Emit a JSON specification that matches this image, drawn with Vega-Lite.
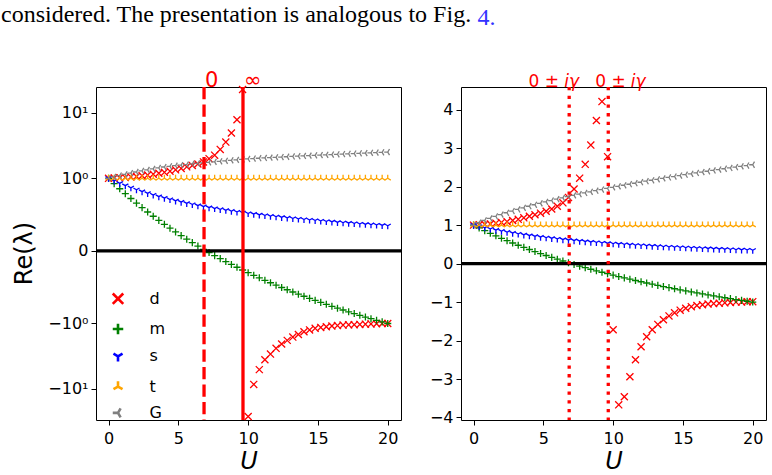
{
  "$schema": "https://vega.github.io/schema/vega-lite/v6.json",
  "background": "white",
  "padding": {"left": 0, "top": 2, "right": 6, "bottom": 0},
  "datasets": {
    "shared": [
      {"k":"m","U":0,"v":1.0},{"k":"m","U":0.4,"v":0.927},{"k":"m","U":0.8,"v":0.856},{"k":"m","U":1.2,"v":0.788},{"k":"m","U":1.6,"v":0.722},{"k":"m","U":2,"v":0.658},{"k":"m","U":2.4,"v":0.596},{"k":"m","U":2.8,"v":0.536},{"k":"m","U":3.2,"v":0.477},{"k":"m","U":3.6,"v":0.421},{"k":"m","U":4,"v":0.366},{"k":"m","U":4.4,"v":0.313},{"k":"m","U":4.8,"v":0.261},{"k":"m","U":5.2,"v":0.21},{"k":"m","U":5.6,"v":0.161},{"k":"m","U":6,"v":0.114},{"k":"m","U":6.4,"v":0.067},{"k":"m","U":6.8,"v":0.022},{"k":"m","U":7.2,"v":-0.022},{"k":"m","U":7.6,"v":-0.065},{"k":"m","U":8,"v":-0.106},{"k":"m","U":8.4,"v":-0.147},{"k":"m","U":8.8,"v":-0.187},{"k":"m","U":9.2,"v":-0.225},{"k":"m","U":9.6,"v":-0.263},{"k":"m","U":10,"v":-0.3},{"k":"m","U":10.4,"v":-0.336},{"k":"m","U":10.8,"v":-0.371},{"k":"m","U":11.2,"v":-0.405},{"k":"m","U":11.6,"v":-0.439},{"k":"m","U":12,"v":-0.472},{"k":"m","U":12.4,"v":-0.504},{"k":"m","U":12.8,"v":-0.535},{"k":"m","U":13.2,"v":-0.566},{"k":"m","U":13.6,"v":-0.596},{"k":"m","U":14,"v":-0.625},{"k":"m","U":14.4,"v":-0.654},{"k":"m","U":14.8,"v":-0.682},{"k":"m","U":15.2,"v":-0.709},{"k":"m","U":15.6,"v":-0.736},{"k":"m","U":16,"v":-0.763},{"k":"m","U":16.4,"v":-0.789},{"k":"m","U":16.8,"v":-0.814},{"k":"m","U":17.2,"v":-0.839},{"k":"m","U":17.6,"v":-0.863},{"k":"m","U":18,"v":-0.887},{"k":"m","U":18.4,"v":-0.911},{"k":"m","U":18.8,"v":-0.934},{"k":"m","U":19.2,"v":-0.956},{"k":"m","U":19.6,"v":-0.978},{"k":"m","U":20,"v":-1.0},
      {"k":"s","U":0,"v":1.0},{"k":"s","U":0.4,"v":0.964},{"k":"s","U":0.8,"v":0.93},{"k":"s","U":1.2,"v":0.899},{"k":"s","U":1.6,"v":0.869},{"k":"s","U":2,"v":0.842},{"k":"s","U":2.4,"v":0.816},{"k":"s","U":2.8,"v":0.792},{"k":"s","U":3.2,"v":0.769},{"k":"s","U":3.6,"v":0.747},{"k":"s","U":4,"v":0.727},{"k":"s","U":4.4,"v":0.707},{"k":"s","U":4.8,"v":0.689},{"k":"s","U":5.2,"v":0.672},{"k":"s","U":5.6,"v":0.655},{"k":"s","U":6,"v":0.639},{"k":"s","U":6.4,"v":0.624},{"k":"s","U":6.8,"v":0.61},{"k":"s","U":7.2,"v":0.596},{"k":"s","U":7.6,"v":0.583},{"k":"s","U":8,"v":0.571},{"k":"s","U":8.4,"v":0.559},{"k":"s","U":8.8,"v":0.547},{"k":"s","U":9.2,"v":0.536},{"k":"s","U":9.6,"v":0.526},{"k":"s","U":10,"v":0.515},{"k":"s","U":10.4,"v":0.506},{"k":"s","U":10.8,"v":0.496},{"k":"s","U":11.2,"v":0.487},{"k":"s","U":11.6,"v":0.478},{"k":"s","U":12,"v":0.47},{"k":"s","U":12.4,"v":0.462},{"k":"s","U":12.8,"v":0.454},{"k":"s","U":13.2,"v":0.446},{"k":"s","U":13.6,"v":0.439},{"k":"s","U":14,"v":0.432},{"k":"s","U":14.4,"v":0.425},{"k":"s","U":14.8,"v":0.418},{"k":"s","U":15.2,"v":0.412},{"k":"s","U":15.6,"v":0.405},{"k":"s","U":16,"v":0.399},{"k":"s","U":16.4,"v":0.393},{"k":"s","U":16.8,"v":0.388},{"k":"s","U":17.2,"v":0.382},{"k":"s","U":17.6,"v":0.377},{"k":"s","U":18,"v":0.371},{"k":"s","U":18.4,"v":0.366},{"k":"s","U":18.8,"v":0.361},{"k":"s","U":19.2,"v":0.357},{"k":"s","U":19.6,"v":0.352},{"k":"s","U":20,"v":0.347},
      {"k":"t","U":0,"v":1},{"k":"t","U":0.4,"v":1},{"k":"t","U":0.8,"v":1},{"k":"t","U":1.2,"v":1},{"k":"t","U":1.6,"v":1},{"k":"t","U":2,"v":1},{"k":"t","U":2.4,"v":1},{"k":"t","U":2.8,"v":1},{"k":"t","U":3.2,"v":1},{"k":"t","U":3.6,"v":1},{"k":"t","U":4,"v":1},{"k":"t","U":4.4,"v":1},{"k":"t","U":4.8,"v":1},{"k":"t","U":5.2,"v":1},{"k":"t","U":5.6,"v":1},{"k":"t","U":6,"v":1},{"k":"t","U":6.4,"v":1},{"k":"t","U":6.8,"v":1},{"k":"t","U":7.2,"v":1},{"k":"t","U":7.6,"v":1},{"k":"t","U":8,"v":1},{"k":"t","U":8.4,"v":1},{"k":"t","U":8.8,"v":1},{"k":"t","U":9.2,"v":1},{"k":"t","U":9.6,"v":1},{"k":"t","U":10,"v":1},{"k":"t","U":10.4,"v":1},{"k":"t","U":10.8,"v":1},{"k":"t","U":11.2,"v":1},{"k":"t","U":11.6,"v":1},{"k":"t","U":12,"v":1},{"k":"t","U":12.4,"v":1},{"k":"t","U":12.8,"v":1},{"k":"t","U":13.2,"v":1},{"k":"t","U":13.6,"v":1},{"k":"t","U":14,"v":1},{"k":"t","U":14.4,"v":1},{"k":"t","U":14.8,"v":1},{"k":"t","U":15.2,"v":1},{"k":"t","U":15.6,"v":1},{"k":"t","U":16,"v":1},{"k":"t","U":16.4,"v":1},{"k":"t","U":16.8,"v":1},{"k":"t","U":17.2,"v":1},{"k":"t","U":17.6,"v":1},{"k":"t","U":18,"v":1},{"k":"t","U":18.4,"v":1},{"k":"t","U":18.8,"v":1},{"k":"t","U":19.2,"v":1},{"k":"t","U":19.6,"v":1},{"k":"t","U":20,"v":1},
      {"k":"G","U":0,"v":1.0},{"k":"G","U":0.4,"v":1.062},{"k":"G","U":0.8,"v":1.12},{"k":"G","U":1.2,"v":1.174},{"k":"G","U":1.6,"v":1.225},{"k":"G","U":2,"v":1.274},{"k":"G","U":2.4,"v":1.321},{"k":"G","U":2.8,"v":1.366},{"k":"G","U":3.2,"v":1.409},{"k":"G","U":3.6,"v":1.45},{"k":"G","U":4,"v":1.491},{"k":"G","U":4.4,"v":1.529},{"k":"G","U":4.8,"v":1.567},{"k":"G","U":5.2,"v":1.604},{"k":"G","U":5.6,"v":1.639},{"k":"G","U":6,"v":1.674},{"k":"G","U":6.4,"v":1.708},{"k":"G","U":6.8,"v":1.741},{"k":"G","U":7.2,"v":1.773},{"k":"G","U":7.6,"v":1.805},{"k":"G","U":8,"v":1.836},{"k":"G","U":8.4,"v":1.866},{"k":"G","U":8.8,"v":1.896},{"k":"G","U":9.2,"v":1.925},{"k":"G","U":9.6,"v":1.953},{"k":"G","U":10,"v":1.981},{"k":"G","U":10.4,"v":2.009},{"k":"G","U":10.8,"v":2.036},{"k":"G","U":11.2,"v":2.063},{"k":"G","U":11.6,"v":2.089},{"k":"G","U":12,"v":2.115},{"k":"G","U":12.4,"v":2.141},{"k":"G","U":12.8,"v":2.166},{"k":"G","U":13.2,"v":2.191},{"k":"G","U":13.6,"v":2.215},{"k":"G","U":14,"v":2.239},{"k":"G","U":14.4,"v":2.263},{"k":"G","U":14.8,"v":2.287},{"k":"G","U":15.2,"v":2.31},{"k":"G","U":15.6,"v":2.333},{"k":"G","U":16,"v":2.356},{"k":"G","U":16.4,"v":2.378},{"k":"G","U":16.8,"v":2.4},{"k":"G","U":17.2,"v":2.422},{"k":"G","U":17.6,"v":2.444},{"k":"G","U":18,"v":2.465},{"k":"G","U":18.4,"v":2.486},{"k":"G","U":18.8,"v":2.507},{"k":"G","U":19.2,"v":2.528},{"k":"G","U":19.6,"v":2.549},{"k":"G","U":20,"v":2.569}
    ],
    "dLeft": [
      {"k":"d","U":0,"v":1.0},{"k":"d","U":0.4,"v":1.01},{"k":"d","U":0.8,"v":1.02},{"k":"d","U":1.2,"v":1.04},{"k":"d","U":1.6,"v":1.06},{"k":"d","U":2,"v":1.08},{"k":"d","U":2.4,"v":1.11},{"k":"d","U":2.8,"v":1.14},{"k":"d","U":3.2,"v":1.18},{"k":"d","U":3.6,"v":1.22},{"k":"d","U":4,"v":1.26},{"k":"d","U":4.4,"v":1.31},{"k":"d","U":4.8,"v":1.37},{"k":"d","U":5.2,"v":1.43},{"k":"d","U":5.6,"v":1.5},{"k":"d","U":6,"v":1.58},{"k":"d","U":6.4,"v":1.67},{"k":"d","U":6.8,"v":1.8},{"k":"d","U":7.2,"v":2.0},{"k":"d","U":7.6,"v":2.3},{"k":"d","U":8,"v":2.8},{"k":"d","U":8.4,"v":3.7},{"k":"d","U":8.8,"v":4.95},{"k":"d","U":9.2,"v":8.0},{"k":"d","U":9.6,"v":23.0},{"k":"d","U":10,"v":-27.0},{"k":"d","U":10.4,"v":-8.7},{"k":"d","U":10.8,"v":-5.1},{"k":"d","U":11.2,"v":-3.7},{"k":"d","U":11.6,"v":-2.95},{"k":"d","U":12,"v":-2.45},{"k":"d","U":12.4,"v":-2.07},{"k":"d","U":12.8,"v":-1.83},{"k":"d","U":13.2,"v":-1.63},{"k":"d","U":13.6,"v":-1.48},{"k":"d","U":14,"v":-1.36},{"k":"d","U":14.4,"v":-1.28},{"k":"d","U":14.8,"v":-1.21},{"k":"d","U":15.2,"v":-1.17},{"k":"d","U":15.6,"v":-1.14},{"k":"d","U":16,"v":-1.11},{"k":"d","U":16.4,"v":-1.09},{"k":"d","U":16.8,"v":-1.07},{"k":"d","U":17.2,"v":-1.06},{"k":"d","U":17.6,"v":-1.05},{"k":"d","U":18,"v":-1.04},{"k":"d","U":18.4,"v":-1.03},{"k":"d","U":18.8,"v":-1.02},{"k":"d","U":19.2,"v":-1.01},{"k":"d","U":19.6,"v":-1.0},{"k":"d","U":20,"v":-1.0}
    ],
    "dRight": [
      {"k":"d","U":0,"v":1.0},{"k":"d","U":0.4,"v":1.01},{"k":"d","U":0.8,"v":1.02},{"k":"d","U":1.2,"v":1.03},{"k":"d","U":1.6,"v":1.05},{"k":"d","U":2,"v":1.07},{"k":"d","U":2.4,"v":1.09},{"k":"d","U":2.8,"v":1.12},{"k":"d","U":3.2,"v":1.15},{"k":"d","U":3.6,"v":1.19},{"k":"d","U":4,"v":1.23},{"k":"d","U":4.4,"v":1.27},{"k":"d","U":4.8,"v":1.31},{"k":"d","U":5.2,"v":1.36},{"k":"d","U":5.6,"v":1.42},{"k":"d","U":6,"v":1.49},{"k":"d","U":6.4,"v":1.58},{"k":"d","U":6.8,"v":1.72},{"k":"d","U":7.2,"v":1.94},{"k":"d","U":7.6,"v":2.22},{"k":"d","U":8,"v":2.58},{"k":"d","U":8.4,"v":3.08},{"k":"d","U":8.8,"v":3.72},{"k":"d","U":9.2,"v":4.21},{"k":"d","U":9.6,"v":2.78},{"k":"d","U":10,"v":-1.72},{"k":"d","U":10.4,"v":-3.67},{"k":"d","U":10.8,"v":-3.46},{"k":"d","U":11.2,"v":-2.94},{"k":"d","U":11.6,"v":-2.5},{"k":"d","U":12,"v":-2.16},{"k":"d","U":12.4,"v":-1.9},{"k":"d","U":12.8,"v":-1.72},{"k":"d","U":13.2,"v":-1.58},{"k":"d","U":13.6,"v":-1.46},{"k":"d","U":14,"v":-1.36},{"k":"d","U":14.4,"v":-1.28},{"k":"d","U":14.8,"v":-1.21},{"k":"d","U":15.2,"v":-1.16},{"k":"d","U":15.6,"v":-1.12},{"k":"d","U":16,"v":-1.09},{"k":"d","U":16.4,"v":-1.07},{"k":"d","U":16.8,"v":-1.05},{"k":"d","U":17.2,"v":-1.04},{"k":"d","U":17.6,"v":-1.03},{"k":"d","U":18,"v":-1.02},{"k":"d","U":18.4,"v":-1.01},{"k":"d","U":18.8,"v":-1.0},{"k":"d","U":19.2,"v":-1.0},{"k":"d","U":19.6,"v":-0.99},{"k":"d","U":20,"v":-0.99}
    ]
  },
  "hconcat": [
    {
      "width": 305,
      "height": 333,
      "title": {"text": "considered. The presentation is analogous to Fig.", "dx": -95},
      "layer": [
        {
          "data": {"name": "dLeft"},
          "mark": {"type": "point", "filled": false, "size": 50, "strokeWidth": 1.3, "opacity": 1},
          "encoding": {
            "x": {"field": "U", "type": "quantitative", "scale": {"domain": [-0.9, 20.95], "nice": false, "zero": false}, "axis": {"values": [0, 5, 10, 15, 20], "title": "U"}},
            "y": {"field": "v", "type": "quantitative",
              "scale": {"domain": [-30, -20, -15, -10, -7, -5, -3, -2, -1.5, -1, 0, 1, 1.5, 2, 3, 5, 7, 10, 15, 20, 25],
                        "range": [333, 321.48, 313.32, 301.82, 291.7, 282.15, 267.66, 256.15, 247.99, 236.49, 163.9, 91.31, 79.81, 71.65, 60.14, 45.65, 36.1, 25.98, 14.48, 6.32, 0],
                        "nice": false, "zero": false},
              "axis": {"values": [-10, -1, 0, 1, 10], "title": "Re(λ)", "titleX": -65, "titleY": 166, "titleAngle": -90, "titleAlign": "center", "titleBaseline": "alphabetic",
                       "labelExpr": "datum.value == 10 ? '10¹' : datum.value == 1 ? '10⁰' : datum.value == 0 ? '0' : datum.value == -1 ? '−10⁰' : '−10¹'"}},
            "color": {"field": "k", "type": "nominal", "scale": {"domain": ["d", "m", "s", "t", "G"], "range": ["#ff0000", "#008000", "#0000ff", "#ffa500", "#808080"]}, "legend": {"orient": "none", "legendX": 14, "legendY": 203.7, "title": null}},
            "shape": {"field": "k", "type": "nominal", "scale": {"domain": ["d", "m", "s", "t", "G"], "range": ["M-1,-1L1,1M-1,1L1,-1", "M-1,0L1,0M0,-1L0,1", "M0,0L0,1M0,0L0.866,-0.5M0,0L-0.866,-0.5", "M0,0L0,-1M0,0L0.866,0.5M0,0L-0.866,0.5", "M0,0L-1,0M0,0L0.5,-0.866M0,0L0.5,0.866"]}, "legend": {"orient": "none", "legendX": 14, "legendY": 203.7, "title": null}}
          }
        },
        {
          "data": {"name": "shared"},
          "mark": {"type": "point", "filled": false, "size": 50, "strokeWidth": 1.3, "opacity": 1},
          "encoding": {
            "x": {"field": "U", "type": "quantitative", "scale": {"domain": [-0.9, 20.95], "nice": false, "zero": false}},
            "y": {"field": "v", "type": "quantitative",
              "scale": {"domain": [-30, -20, -15, -10, -7, -5, -3, -2, -1.5, -1, 0, 1, 1.5, 2, 3, 5, 7, 10, 15, 20, 25],
                        "range": [333, 321.48, 313.32, 301.82, 291.7, 282.15, 267.66, 256.15, 247.99, 236.49, 163.9, 91.31, 79.81, 71.65, 60.14, 45.65, 36.1, 25.98, 14.48, 6.32, 0],
                        "nice": false, "zero": false}},
            "color": {"field": "k", "type": "nominal", "scale": {"domain": ["d", "m", "s", "t", "G"], "range": ["#ff0000", "#008000", "#0000ff", "#ffa500", "#808080"]}, "legend": {"orient": "none", "legendX": 14, "legendY": 203.7, "title": null}},
            "shape": {"field": "k", "type": "nominal", "scale": {"domain": ["d", "m", "s", "t", "G"], "range": ["M-1,-1L1,1M-1,1L1,-1", "M-1,0L1,0M0,-1L0,1", "M0,0L0,1M0,0L0.866,-0.5M0,0L-0.866,-0.5", "M0,0L0,-1M0,0L0.866,0.5M0,0L-0.866,0.5", "M0,0L-1,0M0,0L0.5,-0.866M0,0L0.5,0.866"]}, "legend": {"orient": "none", "legendX": 14, "legendY": 203.7, "title": null}}
          }
        },
        {
          "data": {"values": [{"v": 0}]},
          "mark": {"type": "rule", "color": "black", "strokeWidth": 3.3},
          "encoding": {
            "y": {"field": "v", "type": "quantitative",
              "scale": {"domain": [-30, -20, -15, -10, -7, -5, -3, -2, -1.5, -1, 0, 1, 1.5, 2, 3, 5, 7, 10, 15, 20, 25],
                        "range": [333, 321.48, 313.32, 301.82, 291.7, 282.15, 267.66, 256.15, 247.99, 236.49, 163.9, 91.31, 79.81, 71.65, 60.14, 45.65, 36.1, 25.98, 14.48, 6.32, 0],
                        "nice": false, "zero": false}}
          }
        },
        {
          "data": {"values": [{"U": 6.84}]},
          "mark": {"type": "rule", "color": "#ff0000", "strokeWidth": 3.3, "strokeDash": [12.2, 5.3], "strokeCap": "butt"},
          "encoding": {"x": {"field": "U", "type": "quantitative", "scale": {"domain": [-0.9, 20.95], "nice": false, "zero": false}}}
        },
        {
          "data": {"values": [{"U": 9.63}]},
          "mark": {"type": "rule", "color": "#ff0000", "strokeWidth": 3.3},
          "encoding": {"x": {"field": "U", "type": "quantitative", "scale": {"domain": [-0.9, 20.95], "nice": false, "zero": false}}}
        },
        {
          "data": {"values": [{"U": 6.84, "lab": "0"}, {"U": 9.63, "lab": "∞"}]},
          "mark": {"type": "text", "color": "#ff0000", "font": "DejaVu Sans", "fontSize": 21, "align": "left", "baseline": "alphabetic", "dx": 1},
          "encoding": {
            "x": {"field": "U", "type": "quantitative", "scale": {"domain": [-0.9, 20.95], "nice": false, "zero": false}},
            "y": {"datum": 25, "type": "quantitative",
              "scale": {"domain": [-30, -20, -15, -10, -7, -5, -3, -2, -1.5, -1, 0, 1, 1.5, 2, 3, 5, 7, 10, 15, 20, 25],
                        "range": [333, 321.48, 313.32, 301.82, 291.7, 282.15, 267.66, 256.15, 247.99, 236.49, 163.9, 91.31, 79.81, 71.65, 60.14, 45.65, 36.1, 25.98, 14.48, 6.32, 0],
                        "nice": false, "zero": false}},
            "text": {"field": "lab"}
          }
        }
      ]
    },
    {
      "width": 305,
      "height": 333,
      "title": {"text": "4.", "dx": 16.6, "color": "#3333ff"},
      "layer": [
        {
          "data": {"name": "dRight"},
          "mark": {"type": "point", "filled": false, "size": 50, "strokeWidth": 1.3, "opacity": 1},
          "encoding": {
            "x": {"field": "U", "type": "quantitative", "scale": {"domain": [-0.9, 20.95], "nice": false, "zero": false}, "axis": {"values": [0, 5, 10, 15, 20], "title": "U"}},
            "y": {"field": "v", "type": "quantitative", "scale": {"domain": [-4.065, 4.59], "nice": false, "zero": false},
              "axis": {"values": [-4, -3, -2, -1, 0, 1, 2, 3, 4], "title": null, "labelExpr": "datum.value < 0 ? '−' + abs(datum.value) : '' + datum.value"}},
            "color": {"field": "k", "type": "nominal", "scale": {"domain": ["d", "m", "s", "t", "G"], "range": ["#ff0000", "#008000", "#0000ff", "#ffa500", "#808080"]}, "legend": null},
            "shape": {"field": "k", "type": "nominal", "scale": {"domain": ["d", "m", "s", "t", "G"], "range": ["M-1,-1L1,1M-1,1L1,-1", "M-1,0L1,0M0,-1L0,1", "M0,0L0,1M0,0L0.866,-0.5M0,0L-0.866,-0.5", "M0,0L0,-1M0,0L0.866,0.5M0,0L-0.866,0.5", "M0,0L-1,0M0,0L0.5,-0.866M0,0L0.5,0.866"]}, "legend": null}
          }
        },
        {
          "data": {"name": "shared"},
          "mark": {"type": "point", "filled": false, "size": 50, "strokeWidth": 1.3, "opacity": 1},
          "encoding": {
            "x": {"field": "U", "type": "quantitative", "scale": {"domain": [-0.9, 20.95], "nice": false, "zero": false}},
            "y": {"field": "v", "type": "quantitative", "scale": {"domain": [-4.065, 4.59], "nice": false, "zero": false}},
            "color": {"field": "k", "type": "nominal", "scale": {"domain": ["d", "m", "s", "t", "G"], "range": ["#ff0000", "#008000", "#0000ff", "#ffa500", "#808080"]}, "legend": null},
            "shape": {"field": "k", "type": "nominal", "scale": {"domain": ["d", "m", "s", "t", "G"], "range": ["M-1,-1L1,1M-1,1L1,-1", "M-1,0L1,0M0,-1L0,1", "M0,0L0,1M0,0L0.866,-0.5M0,0L-0.866,-0.5", "M0,0L0,-1M0,0L0.866,0.5M0,0L-0.866,0.5", "M0,0L-1,0M0,0L0.5,-0.866M0,0L0.5,0.866"]}, "legend": null}
          }
        },
        {
          "data": {"values": [{"v": 0}]},
          "mark": {"type": "rule", "color": "black", "strokeWidth": 3.3},
          "encoding": {"y": {"field": "v", "type": "quantitative", "scale": {"domain": [-4.065, 4.59], "nice": false, "zero": false}}}
        },
        {
          "data": {"values": [{"U": 6.85}, {"U": 9.65}]},
          "mark": {"type": "rule", "color": "#ff0000", "strokeWidth": 3.3, "strokeDash": [3.3, 5.4], "strokeCap": "butt"},
          "encoding": {"x": {"field": "U", "type": "quantitative", "scale": {"domain": [-0.9, 20.95], "nice": false, "zero": false}}}
        },
        {
          "data": {"values": [{"U": 6.85, "lab": "0 ±"}]},
          "mark": {"type": "text", "color": "#ff0000", "font": "DejaVu Sans", "fontSize": 17, "align": "left", "baseline": "alphabetic", "dx": -40.6},
          "encoding": {
            "x": {"field": "U", "type": "quantitative", "scale": {"domain": [-0.9, 20.95], "nice": false, "zero": false}},
            "y": {"datum": 4.59, "type": "quantitative", "scale": {"domain": [-4.065, 4.59], "nice": false, "zero": false}},
            "text": {"field": "lab"}
          }
        },
        {
          "data": {"values": [{"U": 6.85, "lab": "iγ"}]},
          "mark": {"type": "text", "color": "#ff0000", "font": "DejaVu Sans", "fontSize": 17, "fontStyle": "italic", "align": "left", "baseline": "alphabetic", "dx": -5},
          "encoding": {
            "x": {"field": "U", "type": "quantitative", "scale": {"domain": [-0.9, 20.95], "nice": false, "zero": false}},
            "y": {"datum": 4.59, "type": "quantitative", "scale": {"domain": [-4.065, 4.59], "nice": false, "zero": false}},
            "text": {"field": "lab"}
          }
        },
        {
          "data": {"values": [{"U": 9.65, "lab": "0 ±"}]},
          "mark": {"type": "text", "color": "#ff0000", "font": "DejaVu Sans", "fontSize": 17, "align": "left", "baseline": "alphabetic", "dx": -13},
          "encoding": {
            "x": {"field": "U", "type": "quantitative", "scale": {"domain": [-0.9, 20.95], "nice": false, "zero": false}},
            "y": {"datum": 4.59, "type": "quantitative", "scale": {"domain": [-4.065, 4.59], "nice": false, "zero": false}},
            "text": {"field": "lab"}
          }
        },
        {
          "data": {"values": [{"U": 9.65, "lab": "iγ"}]},
          "mark": {"type": "text", "color": "#ff0000", "font": "DejaVu Sans", "fontSize": 17, "fontStyle": "italic", "align": "left", "baseline": "alphabetic", "dx": 22.6},
          "encoding": {
            "x": {"field": "U", "type": "quantitative", "scale": {"domain": [-0.9, 20.95], "nice": false, "zero": false}},
            "y": {"datum": 4.59, "type": "quantitative", "scale": {"domain": [-4.065, 4.59], "nice": false, "zero": false}},
            "text": {"field": "lab"}
          }
        }
      ]
    }
  ],
  "spacing": 60,
  "bounds": "flush",
  "resolve": {
    "scale": {"x": "independent", "y": "independent", "color": "independent", "shape": "independent"},
    "legend": {"color": "independent", "shape": "independent"}
  },
  "config": {
    "view": {"stroke": "black", "strokeWidth": 1},
    "font": "DejaVu Sans",
    "axis": {
      "grid": false, "domain": false, "labelFlush": false, "labelOverlap": false,
      "labelFont": "DejaVu Sans", "labelFontSize": 16, "labelColor": "black",
      "tickColor": "black", "tickSize": 5, "tickWidth": 1,
      "titleFont": "DejaVu Sans", "titleFontSize": 24, "titleFontWeight": "normal", "titleColor": "black"
    },
    "axisX": {"labelPadding": 5, "titlePadding": 3, "titleFontStyle": "italic"},
    "axisY": {"labelPadding": 3},
    "legend": {
      "labelFont": "DejaVu Sans", "labelFontSize": 16, "labelColor": "black",
      "symbolSize": 110, "symbolStrokeWidth": 2.6, "symbolOffset": 0,
      "labelOffset": 23.5, "rowPadding": 8.3, "padding": 0
    },
    "title": {"font": "Liberation Serif", "fontSize": 24, "fontWeight": "normal", "color": "black", "anchor": "start", "frame": "group", "baseline": "alphabetic", "offset": 43}
  }
}
